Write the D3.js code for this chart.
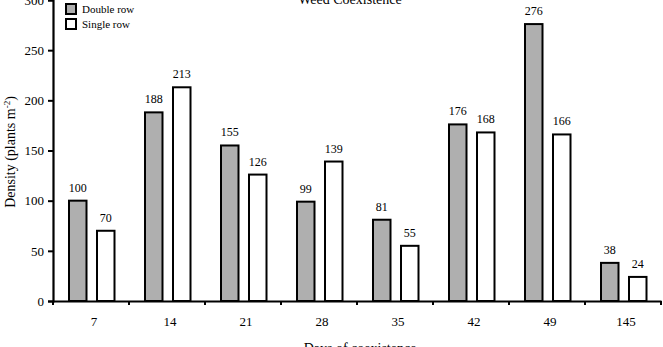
<!DOCTYPE html>
<html>
<head>
<meta charset="utf-8">
<script src="https://cdn.jsdelivr.net/npm/d3@7"></script>
<style>
html,body{margin:0;padding:0;background:#fff;}
svg{display:block;font-family:"Liberation Serif","Times New Roman",serif;}
</style>
</head>
<body>
<svg id="chart" width="663" height="347"></svg>
<script>
const categories = ["7","14","21","28","35","42","49","145"];
const doubleRow = [100,188,155,99,81,176,276,38];
const singleRow = [70,213,126,139,55,168,166,24];
const seriesNames = ["Double row","Single row"];
const yTicks = [0,50,100,150,200,250,300];

const svg = d3.select("#chart");
const x = d3.scaleBand().domain(categories).range([53,661]).padding(0);
const y = d3.scaleLinear().domain([0,300]).range([301,0]);

// title (partly cut off at top)
svg.append("text").attr("x",350).attr("y",4).attr("text-anchor","middle")
  .attr("font-size",14).attr("fill","#000").text("Weed Coexistence");

// y axis
const yAxis = svg.append("g").attr("transform","translate(53,0)")
  .call(d3.axisLeft(y).tickValues(yTicks).tickSize(5).tickPadding(4));
yAxis.select(".domain").attr("stroke","#000").attr("stroke-width",2.2);
yAxis.selectAll(".tick line").attr("stroke","#000").attr("stroke-width",2);
yAxis.selectAll(".tick text").attr("font-family","Liberation Serif").attr("font-size",13).attr("fill","#000");

// x axis
const xAxis = svg.append("g").attr("transform","translate(0,301)")
  .call(d3.axisBottom(x).tickSize(0).tickPadding(16));
xAxis.select(".domain").attr("stroke","#000").attr("stroke-width",2.2);
xAxis.selectAll(".tick text").attr("font-family","Liberation Serif").attr("font-size",13).attr("fill","#000")
  .attr("dx",3);
// boundary ticks between categories
const bounds = categories.map(c => x(c)).concat([x.range()[1]]);
svg.append("g").selectAll("line").data(bounds).join("line")
  .attr("x1",d=>d).attr("x2",d=>d).attr("y1",301).attr("y2",305)
  .attr("stroke","#000").attr("stroke-width",2);

// bars
const g = svg.append("g");
const bw = 17.5;
g.selectAll("rect.d").data(categories).join("rect").attr("class","d")
  .attr("x",c=>x(c)+16).attr("width",bw)
  .attr("y",(c,i)=>y(doubleRow[i])).attr("height",(c,i)=>y(0)-y(doubleRow[i]))
  .attr("fill","#afafaf").attr("stroke","#000").attr("stroke-width",2);
g.selectAll("rect.s").data(categories).join("rect").attr("class","s")
  .attr("x",c=>x(c)+44).attr("width",bw)
  .attr("y",(c,i)=>y(singleRow[i])).attr("height",(c,i)=>y(0)-y(singleRow[i]))
  .attr("fill","#fff").attr("stroke","#000").attr("stroke-width",2);

// value labels
g.selectAll("text.d").data(categories).join("text").attr("class","d")
  .attr("x",c=>x(c)+16+bw/2).attr("y",(c,i)=>y(doubleRow[i])-9)
  .attr("text-anchor","middle").attr("font-size",12).text((c,i)=>doubleRow[i]);
g.selectAll("text.s").data(categories).join("text").attr("class","s")
  .attr("x",c=>x(c)+44+bw/2).attr("y",(c,i)=>y(singleRow[i])-9)
  .attr("text-anchor","middle").attr("font-size",12).text((c,i)=>singleRow[i]);

// axis titles
const yt = svg.append("text").attr("transform","translate(15,152) rotate(-90)")
  .attr("text-anchor","middle").attr("font-size",14);
yt.append("tspan").text("Density (plants m");
yt.append("tspan").attr("dy",-5).attr("font-size",9).text("-2");
yt.append("tspan").attr("dy",5).text(")");

svg.append("text").attr("x",360).attr("y",353).attr("text-anchor","middle")
  .attr("font-size",14).text("Days of coexistence");

// legend
const leg = svg.append("g");
const fills = ["#afafaf","#fff"];
seriesNames.forEach((n,i)=>{
  leg.append("rect").attr("x",66).attr("y",4+i*15).attr("width",10).attr("height",10)
    .attr("fill",fills[i]).attr("stroke","#000").attr("stroke-width",2);
  leg.append("text").attr("x",82).attr("y",13+i*15).attr("font-size",11).text(n);
});
</script>
</body>
</html>
